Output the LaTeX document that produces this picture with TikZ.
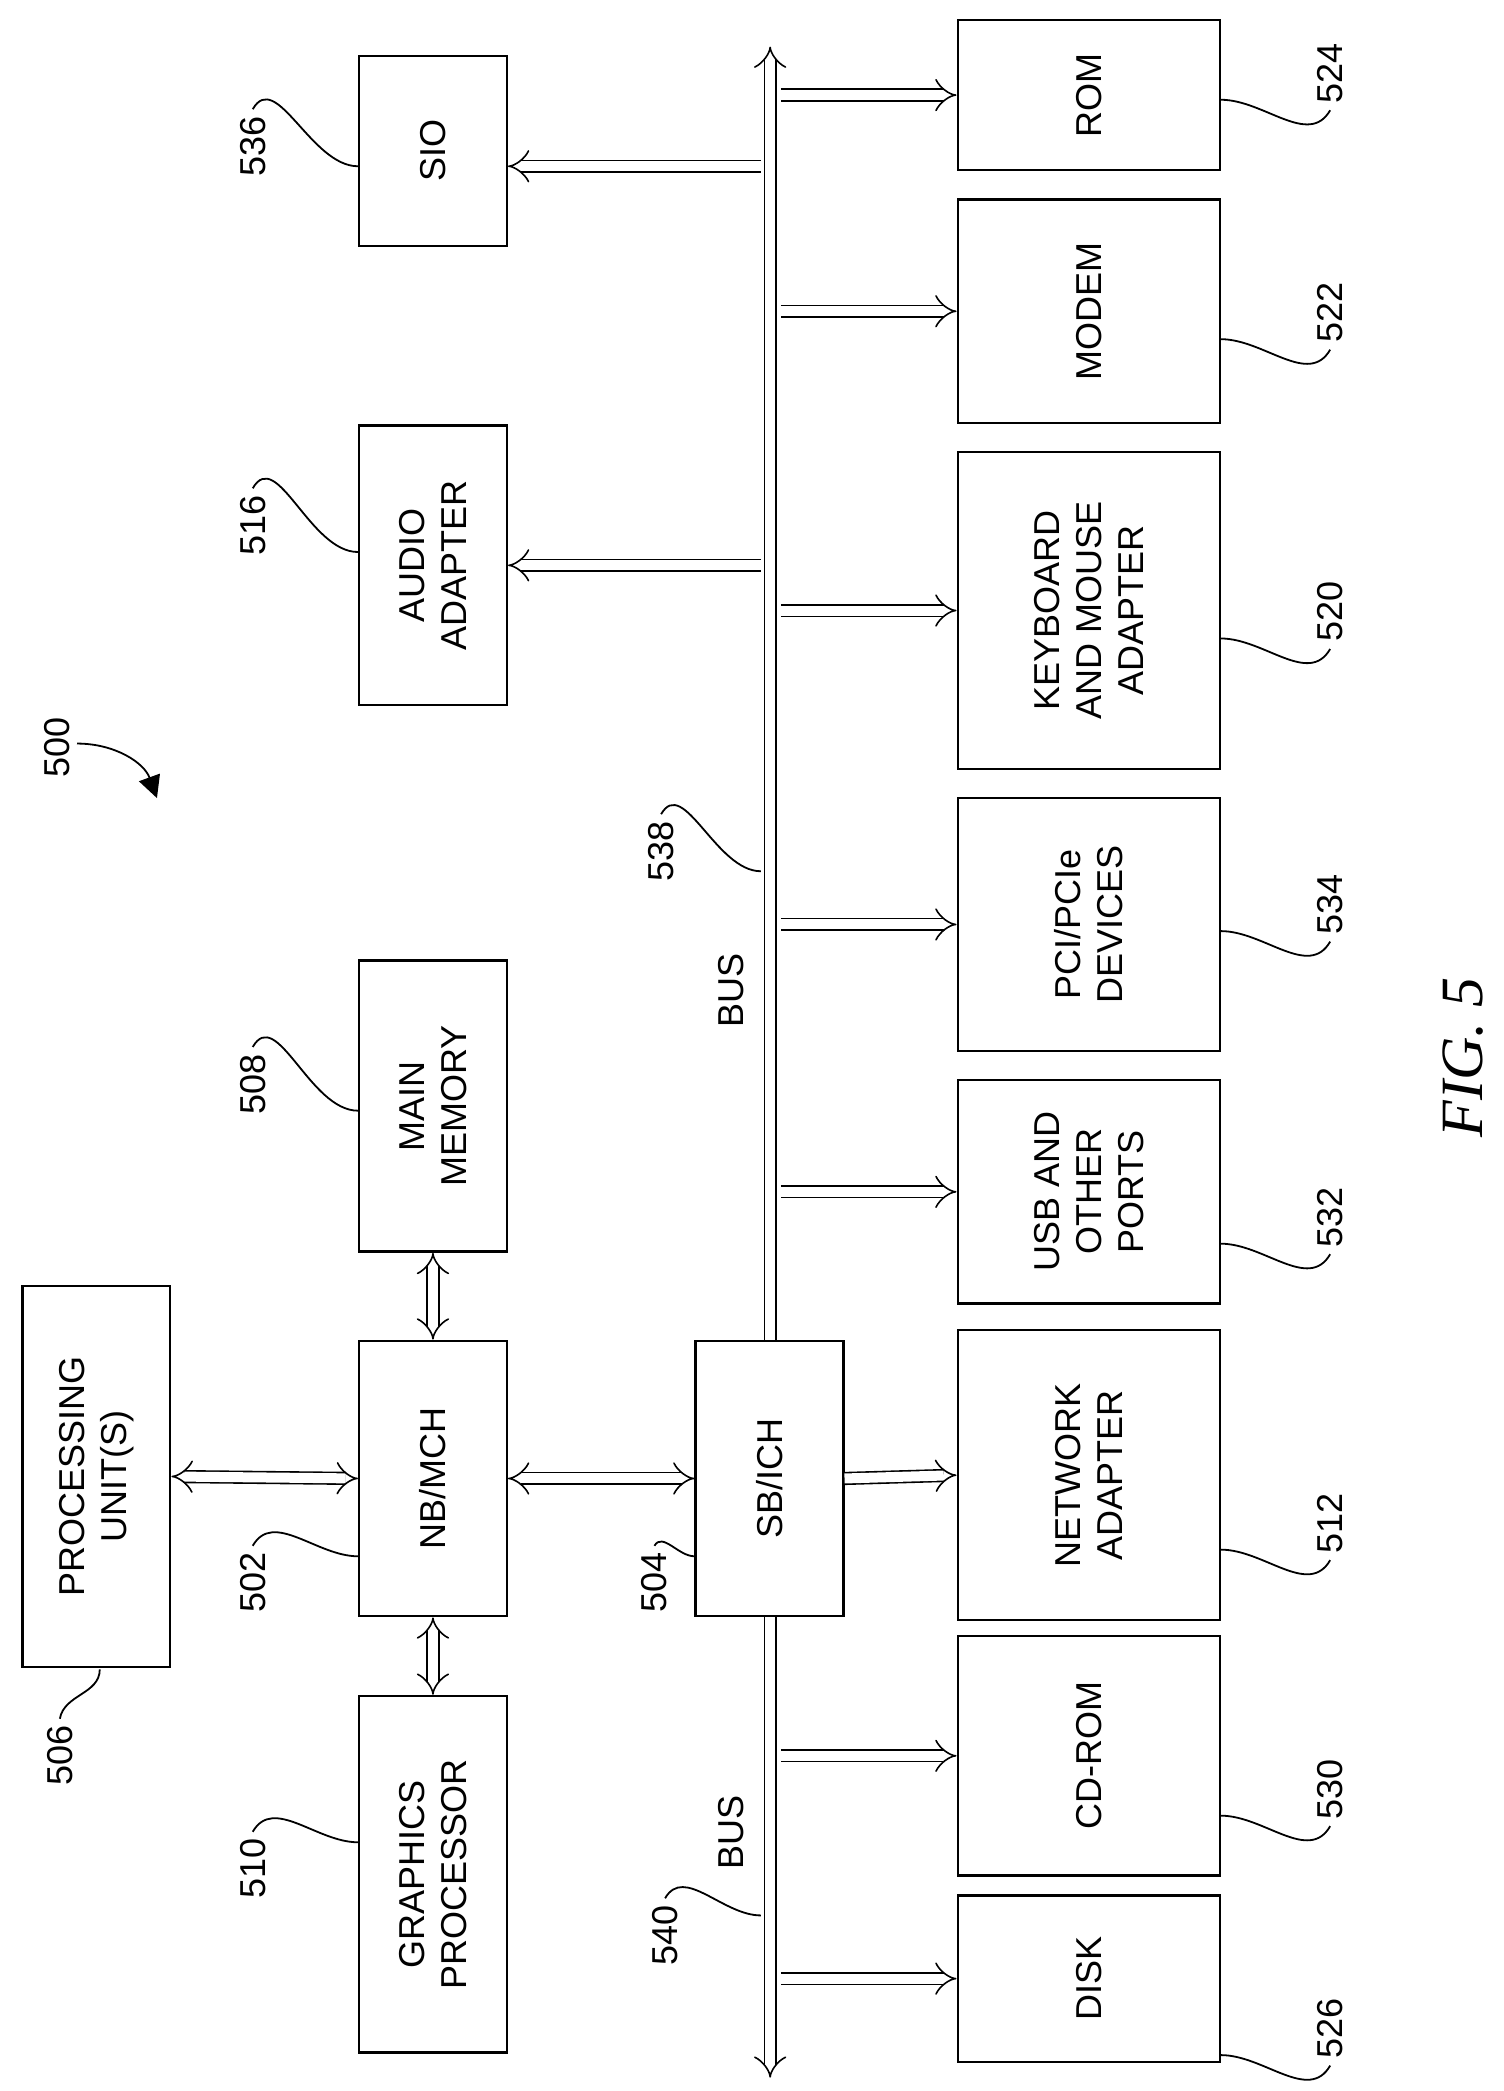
\documentclass[tikz,border=0pt]{standalone}
\usepackage{fontspec}
\setmainfont{Liberation Sans}
\newfontfamily\figfont{Liberation Serif}
\usetikzlibrary{arrows.meta,fit}

\begin{document}
\begin{tikzpicture}[x=0.665pt,y=-0.665pt,
		box/.style={draw,line width=1.2pt,inner sep=0pt},
		txt/.style={rotate=90,align=center,font=\fontsize{18}{21}\selectfont},
		num/.style={rotate=90,font=\fontsize{18}{21}\selectfont},
		dbl/.style={draw,double,double distance=5pt,line width=0.8pt,arrows={-Implies}},
		dbb/.style={dbl,arrows={Implies-Implies}},
		lead/.style={line width=0.9pt}]
		\useasboundingbox (0,0) rectangle (1130,1572);
		% left column
		\node[box,fit={(17,967) (128,1253)}] (pu) {};
		\node[txt] at (pu) {PROCESSING\\UNIT(S)};
		\node[box,fit={(270,1275) (381,1543)}] (gp) {};
		\node[txt] at (gp) {GRAPHICS\\PROCESSOR};
		\node[box,fit={(270,1008) (381,1215)}] (nb) {};
		\node[txt] at (nb) {NB/MCH};
		\node[box,fit={(270,722) (381,941)}] (mm) {};
		\node[txt] at (mm) {MAIN\\MEMORY};
		\node[box,fit={(270,320) (381,530)}] (audio) {};
		\node[txt] at (audio) {AUDIO\\ADAPTER};
		\node[box,fit={(270,42) (381,185)}] (sio) {};
		\node[txt] at (sio) {SIO};
		\node[box,fit={(523,1008) (634,1215)}] (sb) {};
		\node[txt] at (sb) {SB/ICH};
		% right column
		\node[box,fit={(720,1425) (917,1550)}] (disk) {};
		\node[txt] at (disk) {DISK};
		\node[box,fit={(720,1230) (917,1410)}] (cd) {};
		\node[txt] at (cd) {CD-ROM};
		\node[box,fit={(720,1000) (917,1218)}] (net) {};
		\node[txt] at (net) {NETWORK\\ADAPTER};
		\node[box,fit={(720,812) (917,980)}] (usb) {};
		\node[txt] at (usb) {USB AND\\OTHER\\PORTS};
		\node[box,fit={(720,600) (917,790)}] (pci) {};
		\node[txt] at (pci) {PCI/PCIe\\DEVICES};
		\node[box,fit={(720,340) (917,578)}] (kbd) {};
		\node[txt] at (kbd) {KEYBOARD\\AND MOUSE\\ADAPTER};
		\node[box,fit={(720,150) (917,318)}] (modem) {};
		\node[txt] at (modem) {MODEM};
		\node[box,fit={(720,15) (917,128)}] (rom) {};
		\node[txt] at (rom) {ROM};

		% buses
		\coordinate (bus) at (579,0);
		\coordinate (top) at (579,35);
		\coordinate (bot) at (579,1562);
		\coordinate (br) at (587,0);
		\coordinate (bl) at (572,0);
		\path[dbl] (bus |- sb.north) -- (top);
		\path[dbl] (bus |- sb.south) -- (bot);
		\path[dbb] (pu.east) -- (nb.west);
		\path[dbb] (nb.east) -- (sb.west);
		\path[dbb] (mm.south) -- (nb.north);
		\path[dbb] (nb.south) -- (gp.north);
		\path[dbl] (sb.east) -- (net.west);
		\foreach \b in {rom,modem,kbd,pci,usb,cd,disk}
			\path[dbl] (br |- \b.west) -- (\b.west);
		\path[dbl] (bl |- 0,125) -- (sio.east |- 0,125);
		\path[dbl] (bl |- 0,425) -- (audio.east |- 0,425);

		% labels
		\node[txt] (buslbl1) at (550,745) {BUS};
		\node[txt] (buslbl2) at (550,1378) {BUS};
		\node[num] (n500) at (43,562) {500};
		\draw[lead,-{Triangle[width=11pt,length=11pt]}] (n500.south) ++(0,-3) to[out=0,in=110] (118,600);
		\node[num] (n506) at (45,1320) {506};
		\draw[lead] (n506.east) to[out=80,in=-90] (75,1255);
		\node[num] (n510) at (190,1405) {510};
		\draw[lead] (n510.east) to[out=60,in=180] (gp.west |- 0,1385);
		\node[num] (n502) at (190,1190) {502};
		\draw[lead] (n502.east) to[out=60,in=180] (nb.west |- 0,1170);
		\node[num] (n504) at (492,1190) {504};
		\draw[lead] (n504.east) to[out=60,in=180] (sb.west |- 0,1170);
		\node[num] (n540) at (500,1455) {540};
		\draw[lead] (n540.east) to[out=60,in=180] (bl |- 0,1440);
		\node[num] (n508) at (190,815) {508};
		\draw[lead] (n508.east) to[out=60,in=180] (mm.west |- 0,835);
		\node[num] (n516) at (190,395) {516};
		\draw[lead] (n516.east) to[out=60,in=180] (audio.west |- 0,415);
		\node[num] (n536) at (190,110) {536};
		\draw[lead] (n536.east) to[out=60,in=180] (sio.west |- 0,125);
		\node[num] (n538) at (497,640) {538};
		\draw[lead] (n538.east) to[out=60,in=180] (bl |- 0,655);
		\foreach \b/\n/\y in {rom/524/55,modem/522/235,kbd/520/460,pci/534/680,usb/532/915,net/512/1145,cd/530/1345,disk/526/1525}{
			\node[num] (n\n) at (1000,\y) {\n};
			\draw[lead] (\b.east |- 0,\y+20) to[out=0,in=-120] (n\n.west);
		}
		\node[rotate=90,font=\fontsize{30}{34}\selectfont\itshape\figfont] (fig) at (1100,795) {FIG. 5};
	\end{tikzpicture}
\end{document}
